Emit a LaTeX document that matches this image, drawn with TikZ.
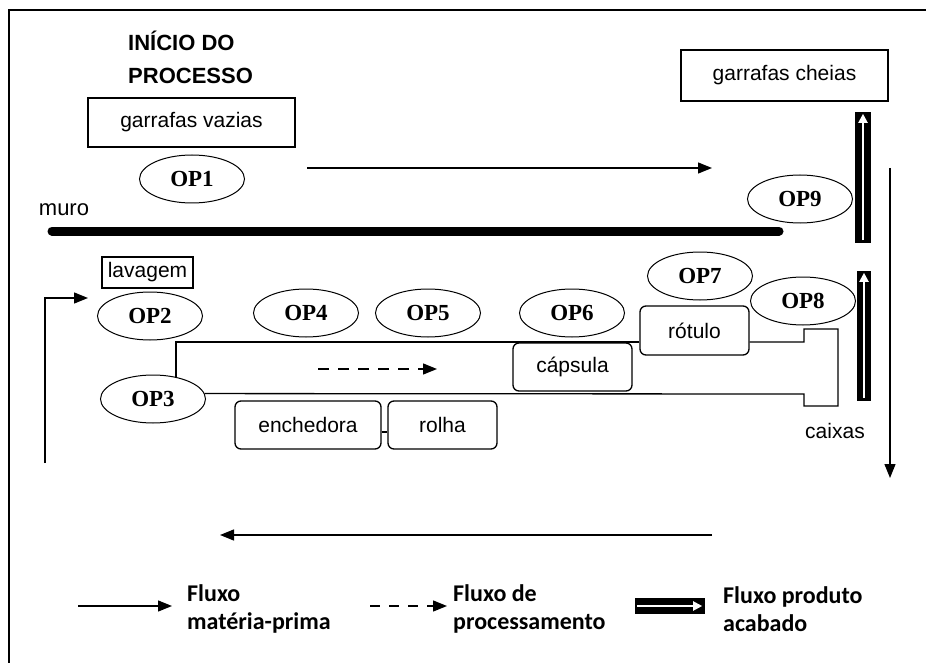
\documentclass[tikz,border=0pt]{standalone}
\usepackage{fontspec}
\setmainfont{Liberation Sans}
\newfontfamily\opfont{Liberation Serif}
\newfontfamily\legfont{Carlito}
\usetikzlibrary{positioning, shapes.geometric, arrows.meta}

\begin{document}
\begin{tikzpicture}[
    x=1pt, y=-1pt,
    box/.style={draw, rectangle, line width=1.3pt, inner sep=0pt, font=\fontsize{21}{24}\selectfont},
    rbox/.style={box, rounded corners=6pt},
    op/.style={draw, ellipse, line width=1pt, inner sep=0pt, minimum width=105pt, minimum height=48pt, font=\opfont\bfseries\fontsize{23}{24}\selectfont},
    arrow/.style={-{Triangle[length=14pt, width=11pt]}, line width=1.3pt},
    dasharrow/.style={arrow, dash pattern=on 11pt off 9pt},
    prodbar/.style={fill=black, rectangle, inner sep=0pt, minimum width=16pt},
    whitearrow/.style={draw=white, line width=2pt, -{Triangle[length=9pt, width=9pt]}},
    plain/.style={inner sep=0pt, font=\fontsize{21}{24}\selectfont},
    legend/.style={inner sep=0pt, anchor=west, align=left, font=\legfont\bfseries\fontsize{24}{28}\selectfont}
]
\useasboundingbox (0,0) rectangle (926,663);

% Frame
\draw[line width=2.5pt] (9,663) -- (9,10) -- (926,10);

% Start of the process
\node[anchor=west, align=left, inner sep=0pt, font=\bfseries\fontsize{22}{33}\selectfont] (inicio) at (128,57) {INÍCIO DO\\PROCESSO};
\node[box, minimum width=207pt, minimum height=49pt] (vazias) at (191.5,122.5) {garrafas vazias};
\node[box, minimum width=207pt, minimum height=51pt] (cheias) at (784.5,75.5) {garrafas cheias};
\node[op] (op1) at (192,179) {OP1};
\node[op] (op9) at (800,199) {OP9};

% Wall
\node[plain, font=\fontsize{22}{24}\selectfont] (muro) at (64,210) {muro};
\coordinate (muroA) at (52,231);
\coordinate (muroB) at (779,231);
\draw[line width=9pt, line cap=round] (muroA) -- (muroB);

% Process line
\node[box, minimum width=91pt, minimum height=31pt] (lavagem) at (147.5,272.5) {lavagem};
\node[op] (op2) at (150,316) {OP2};
\node[op] (op3) at (153,399) {OP3};
\node[op] (op4) at (306,313) {OP4};
\node[op] (op5) at (428,313) {OP5};
\node[op] (op6) at (572,313) {OP6};
\node[op] (op7) at (700,276) {OP7};
\node[op] (op8) at (803,301) {OP8};

\node[rbox, minimum width=146pt, minimum height=48pt] (enchedora) at (308,425) {enchedora};
\node[rbox, minimum width=109pt, minimum height=48pt] (rolha) at (442.5,425) {rolha};
\node[rbox, minimum width=119pt, minimum height=48pt] (capsula) at (572.5,367) {cápsula};
\node[rbox, minimum width=109pt, minimum height=49pt] (rotulo) at (694.5,330.5) {rótulo};
\node[plain] (caixas) at (835,431) {caixas};

% Channel
\draw[line width=1.3pt] (op3.44) |- (rotulo.west |- 0,342);
\draw[line width=1.3pt] (rotulo.east |- 0,342) -- (804,342) -- (804,329) -- (838,329)
    -- (838,406) -- (804,406) -- (804,394) -- (op3.6);
\draw[line width=1.3pt] (enchedora.east |- 0,432) -- (rolha.west |- 0,432);
\coordinate (procA) at (318,369);
\coordinate (procB) at (437,369);
\draw[dasharrow] (procA) -- (procB);

% Raw material flow
\coordinate (topA) at (307,168);
\coordinate (topB) at (712,168);
\coordinate (downA) at (890,168);
\coordinate (downB) at (890,478);
\coordinate (baseA) at (712,535);
\coordinate (baseB) at (220,535);
\coordinate (retorno) at (45,463);
\coordinate (entrada) at (88,298);
\draw[arrow] (topA) -- (topB);
\draw[arrow] (downA) -- (downB);
\draw[arrow] (baseA) -- (baseB);
\draw[arrow] (retorno) |- (entrada);

% Finished product flow
\node[prodbar, minimum height=131pt] (barup) at (863,177.5) {};
\node[prodbar, minimum height=130pt, minimum width=14pt] (bardown) at (864,336) {};
\draw[whitearrow] ([yshift=3pt]barup.south) -- ([yshift=-2pt]barup.north);
\draw[whitearrow] ([yshift=3pt]bardown.south) -- ([yshift=-2pt]bardown.north);

% Legend
\coordinate (lgA) at (78,606);
\coordinate (lgB) at (172,606);
\coordinate (lgC) at (370,606);
\coordinate (lgD) at (447,606);
\draw[arrow] (lgA) -- (lgB);
\draw[dasharrow, dash pattern=on 10pt off 9pt] (lgC) -- (lgD);
\node[legend] (fluxo1) at (187,609) {Fluxo\\matéria-prima};
\node[legend] (fluxo2) at (453,609) {Fluxo de\\processamento};
\node[prodbar, minimum width=70pt, minimum height=16pt] (barleg) at (670,606) {};
\draw[whitearrow] ([xshift=2pt]barleg.west) -- ([xshift=-3pt]barleg.east);
\node[legend] (fluxo3) at (723,609) {Fluxo produto\\acabado};

\end{tikzpicture}
\end{document}
